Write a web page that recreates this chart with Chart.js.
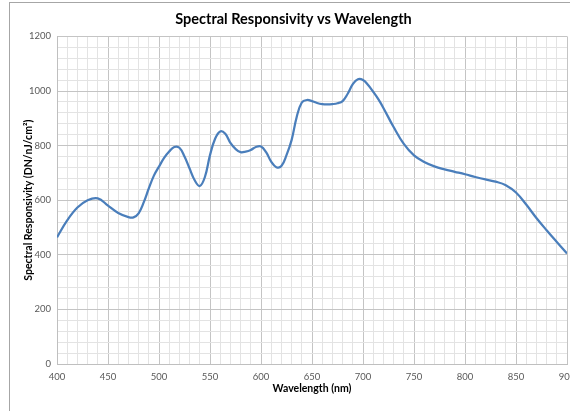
<!DOCTYPE html>
<html>
<head>
<meta charset="utf-8">
<script src="https://cdn.jsdelivr.net/npm/chart.js@4/dist/chart.umd.min.js"></script>
<style>
  html, body { margin: 0; padding: 0; background: #fff; }
  #wrap { width: 570px; height: 411px; }
</style>
</head>
<body>
<div id="wrap"><canvas id="chart" width="570" height="411"></canvas></div>
<script>
/* --- data --- */
const wavelength = [
  400, 410, 420, 430, 440, 450, 460, 470, 475, 480, 485, 490, 495, 500, 505, 510, 515, 520,
  525, 530, 535, 540, 545, 550, 555, 560, 565, 570, 575, 580, 585, 590, 595, 600, 605, 610,
  615, 620, 625, 630, 635, 640, 645, 650, 655, 660, 665, 670, 675, 680, 685, 690, 695, 700,
  705, 710, 715, 720, 730, 740, 750, 760, 770, 780, 790, 800, 810, 820, 830, 840, 850, 860,
  870, 880, 890, 900
];
const responsivity = [
  464, 526, 573, 600, 607, 580, 553, 538, 537, 552, 592, 643, 690, 723, 755, 778, 795, 792,
  760, 716, 673, 652, 685, 765, 825, 852, 843, 810, 788, 776, 778, 784, 795, 797, 776, 741,
  721, 725, 765, 820, 905, 958, 967, 963, 956, 952, 951, 952, 955, 963, 990, 1025, 1043, 1040,
  1022, 997, 970, 938, 868, 806, 764, 740, 724, 713, 704, 695, 685, 676, 668, 655, 628, 584,
  535, 490, 447, 405
];
const xLabels = [400, 450, 500, 550, 600, 650, 700, 750, 800, 850, 900];
const yLabels = [0, 200, 400, 600, 800, 1000, 1200];

const FONT = "Lato, 'Open Sans', sans-serif";
const MAJOR = '#c4c4c4';
const MINOR = '#e3e3e3';
const TICK_CLR = '#595959';

// outer chart frame (only left/top edges are visible in the crop)
const framePlugin = {
  id: 'frame',
  beforeDraw(chart) {
    const c = chart.ctx;
    c.save();
    c.fillStyle = '#fff';
    c.fillRect(0, 0, chart.width, chart.height);
    c.strokeStyle = '#a6a6a6';
    c.lineWidth = 1;
    c.strokeRect(9.5, 2.5, chart.width + 20, chart.height + 20);
    c.restore();
  }
};

new Chart(document.getElementById('chart'), {
  type: 'line',
  data: {
    datasets: [{
      data: wavelength.map((w, i) => ({ x: w, y: responsivity[i] })),
      borderColor: '#4a7ebb',
      borderWidth: 2.25,
      pointRadius: 0,
      tension: 0.4,
      fill: false,
    }],
  },
  options: {
    responsive: false,
    animation: false,
    devicePixelRatio: 1,
    layout: { padding: { left: 20, right: 3, top: 0, bottom: 0 } },
    plugins: {
      legend: { display: false },
      tooltip: { enabled: false },
      title: {
        display: true,
        text: 'Spectral Responsivity vs Wavelength',
        color: '#000',
        font: { family: FONT, size: 14.5, weight: 'bold' },
        padding: { top: 11, bottom: 8 },
      },
    },
    scales: {
      x: {
        type: 'linear',
        min: 400, max: 900,
        ticks: {
          stepSize: 10,
          autoSkip: false,
          maxRotation: 0,
          color: TICK_CLR,
          font: { family: FONT, size: 9.5 },
          padding: 7,
          callback: v => xLabels.includes(v) ? String(v) : '',
        },
        grid: {
          drawTicks: false,
          color: ctx => (ctx.tick && xLabels.includes(ctx.tick.value)) ? MAJOR : MINOR,
        },
        border: { color: '#bfbfbf' },
        title: {
          display: true,
          text: 'Wavelength (nm)',
          color: '#000',
          font: { family: FONT, size: 10.5, weight: 'bold' },
          padding: { top: 0, bottom: 16 },
        },
        afterFit: s => { s.height = 47; s.paddingLeft = 0; s.paddingRight = 0; },
      },
      y: {
        type: 'linear',
        min: 0, max: 1200,
        ticks: {
          stepSize: 40,
          autoSkip: false,
          color: TICK_CLR,
          font: { family: FONT, size: 9.5 },
          padding: 6,
          callback: v => yLabels.includes(v) ? String(v) : '',
        },
        grid: {
          drawTicks: false,
          color: ctx => (ctx.tick && yLabels.includes(ctx.tick.value)) ? MAJOR : MINOR,
        },
        border: { color: '#bfbfbf' },
        title: {
          display: true,
          text: 'Spectral Responsivity (DN/nJ/cm²)',
          color: '#000',
          font: { family: FONT, size: 10.5, weight: 'bold' },
          padding: { top: 2, bottom: 0 },
        },
        afterFit: s => { s.width = 37; s.paddingTop = 0; s.paddingBottom = 0; },
      },
    },
  },
  plugins: [framePlugin],
});
</script>
</body>
</html>
